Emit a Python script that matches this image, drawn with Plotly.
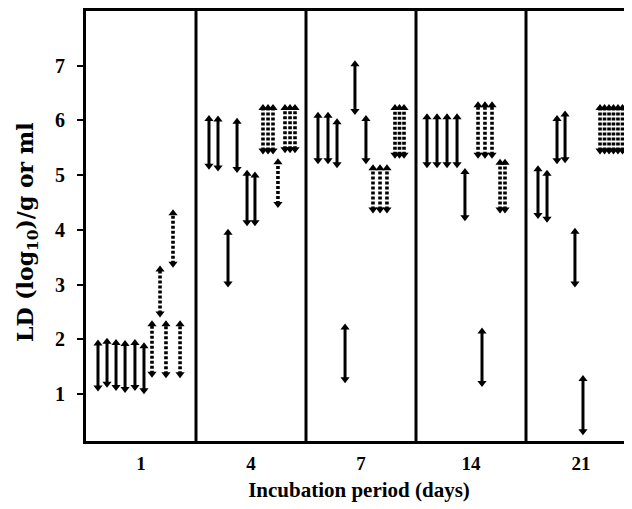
import plotly.graph_objects as go

# ---- data ----
day_labels = ["1", "4", "7", "14", "21"]
day_positions = [1, 2, 3, 4, 5]
y_ticks = [1, 2, 3, 4, 5, 6, 7]

# horizontal placement of each sample's range (panel units)
arrow_x = [
    0.609, 0.691, 0.773, 0.855, 0.945, 1.027,
    1.100, 1.173, 1.227, 1.291, 1.355,
    1.618, 1.700, 1.791, 1.873, 1.964, 2.036,
    2.109, 2.155, 2.200, 2.245, 2.309, 2.355, 2.400,
    2.609, 2.700, 2.782, 2.855, 2.945, 3.045,
    3.109, 3.173, 3.236, 3.309, 3.350, 3.391,
    3.600, 3.691, 3.782, 3.873, 3.945,
    4.064, 4.100, 4.127, 4.191, 4.264, 4.309,
    4.609, 4.691, 4.782, 4.855, 4.945, 5.018,
    5.173, 5.214, 5.255, 5.295, 5.336, 5.377, 5.418, 5.459,
]
arrow_low = [
    1.05, 1.12, 1.06, 1.02, 1.06, 1.00,
    1.30, 2.40, 1.29, 3.31, 1.29,
    5.10, 5.07, 2.95, 5.04, 4.07, 4.07,
    5.38, 5.38, 5.38, 4.40, 5.40, 5.40, 5.40,
    5.20, 5.20, 5.13, 1.20, 6.10, 5.20,
    4.30, 4.30, 4.30, 5.30, 5.30, 5.30,
    5.13, 5.13, 5.13, 5.13, 4.16,
    5.30, 1.13, 5.30, 5.30, 4.30, 4.30,
    4.20, 4.13, 5.20, 5.22, 2.95, 0.25,
    5.38, 5.38, 5.38, 5.38, 5.38, 5.38, 5.38, 5.38,
]
arrow_high = [
    2.00, 2.03, 2.01, 1.99, 2.01, 1.95,
    2.35, 3.35, 2.35, 4.38, 2.35,
    6.10, 6.09, 4.02, 6.05, 5.10, 5.07,
    6.30, 6.30, 6.30, 5.31, 6.30, 6.30, 6.30,
    6.16, 6.16, 6.04, 2.29, 7.10, 6.10,
    5.20, 5.20, 5.20, 6.30, 6.30, 6.30,
    6.13, 6.13, 6.13, 6.13, 5.13,
    6.35, 2.22, 6.35, 6.35, 5.30, 5.30,
    5.18, 5.10, 6.10, 6.18, 4.04, 1.35,
    6.30, 6.30, 6.30, 6.30, 6.30, 6.30, 6.30, 6.30,
]
arrow_dashed = [
    False, False, False, False, False, False,
    True, True, True, True, True,
    False, False, False, False, False, False,
    True, True, True, True, True, True, True,
    False, False, False, False, False, False,
    True, True, True, True, True, True,
    False, False, False, False, False,
    True, False, True, True, True, True,
    False, False, False, False, False, False,
    True, True, True, True, True, True, True, True,
]
panel_edges = [1.5, 2.5, 3.5, 4.5]

# ---- figure ----
FONT = "Liberation Serif"
W, H = 624, 501          # page body has an 8px margin
M_L, M_R, M_T, M_B = 78, 0, 1, 68
y_range = [0.145, 8.0]
plot_h = H - M_T - M_B
px_per_unit = plot_h / (y_range[1] - y_range[0])
head_size = 8
head_off = (head_size / 2) / px_per_unit

fig = go.Figure()

for dashed in (False, True):
    xs, ys = [], []
    for x, lo, hi, d in zip(arrow_x, arrow_low, arrow_high, arrow_dashed):
        if d == dashed:
            xs += [x, x, None]
            ys += [lo + head_off, hi - head_off, None]
    fig.add_trace(go.Scatter(
        x=xs, y=ys, mode="lines", hoverinfo="skip", showlegend=False,
        line=dict(color="black", width=3.6 if dashed else 3,
                  dash="3px,2px" if dashed else "solid"),
    ))

fig.add_trace(go.Scatter(
    x=arrow_x, y=[h - head_off for h in arrow_high], mode="markers",
    marker=dict(symbol="triangle-up", size=head_size, color="black"),
    showlegend=False, hoverinfo="skip",
))
fig.add_trace(go.Scatter(
    x=arrow_x, y=[l + head_off for l in arrow_low], mode="markers",
    marker=dict(symbol="triangle-down", size=head_size, color="black"),
    showlegend=False, hoverinfo="skip",
))

for e in panel_edges:
    fig.add_shape(type="line", x0=e, x1=e, y0=0, y1=1, xref="x", yref="paper",
                  line=dict(color="black", width=3))

# y tick labels placed explicitly (at their data values)
for v in y_ticks:
    fig.add_annotation(x=0, xref="paper", y=v, yref="y", text=str(v),
                       showarrow=False, xanchor="right", yanchor="middle",
                       xshift=-19,
                       font=dict(family=FONT, size=20, weight="bold"))

# y axis title
fig.add_annotation(x=0, xref="paper", y=0.5, yref="paper",
                   text="LD (log<sub>10</sub>)/g or ml", textangle=-90,
                   showarrow=False, xanchor="center", yanchor="middle",
                   xshift=-59, yshift=-6,
                   font=dict(family="DejaVu Serif", size=22, weight="bold"))

fig.update_layout(
    width=W, height=H,
    margin=dict(l=M_L, r=M_R, t=M_T, b=M_B),
    paper_bgcolor="white", plot_bgcolor="white",
    font=dict(family=FONT, color="black", size=19),
    xaxis=dict(
        range=[0.5, 0.5 + (W - M_L - M_R) / 110],
        tickvals=day_positions, ticktext=day_labels,
        ticks="", showgrid=False, zeroline=False,
        showline=True, linecolor="black", linewidth=3, mirror=True,
        tickfont=dict(family=FONT, size=19, weight="bold"),
        ticklabelstandoff=3,
        title=dict(text="Incubation period (days)",
                   font=dict(family=FONT, size=21, weight="bold"), standoff=10),
    ),
    yaxis=dict(
        range=y_range,
        tickvals=y_ticks, showticklabels=False,
        ticks="outside", ticklen=6, tickwidth=2, tickcolor="black",
        showgrid=False, zeroline=False,
        showline=True, linecolor="black", linewidth=3,
    ),
)

fig.write_html("out.html")
